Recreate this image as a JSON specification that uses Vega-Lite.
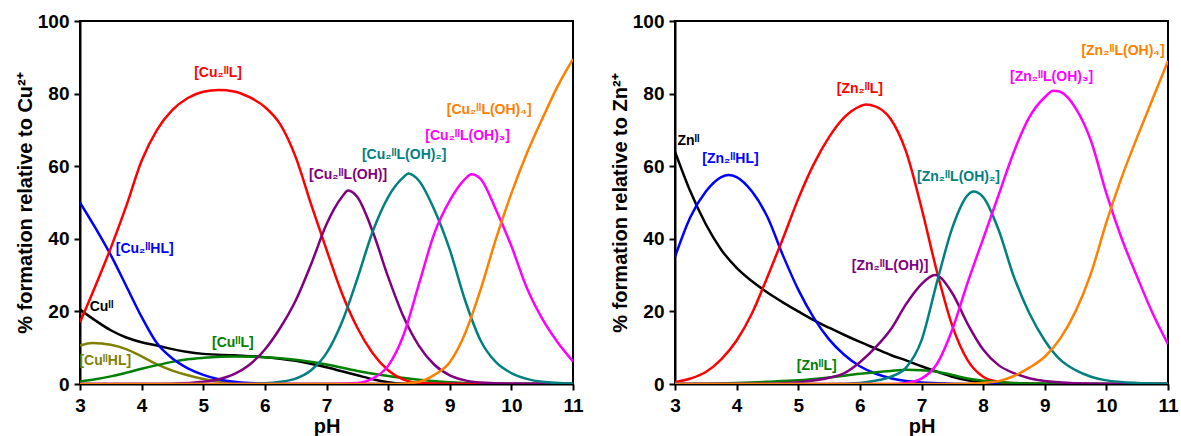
{
"$schema":"https://vega.github.io/schema/vega-lite/v6.json",
"padding":{"left":14,"top":11,"right":0,"bottom":0},
"spacing":102,
"bounds":"flush",
"config":{"font":"Liberation Sans","view":{"stroke":"black","strokeWidth":2},
"axis":{"domainColor":"black","domainWidth":2,"tickColor":"black","tickWidth":2,"tickSize":6,"labelFont":"Liberation Sans","labelFontSize":19,"labelFontWeight":"bold","labelColor":"black","titleFont":"Liberation Sans","titleFontSize":20,"titleFontWeight":"bold","titleColor":"black","grid":false,"labelOverlap":false,"labelFlush":false}},
"datasets":{
"cu":[
{"s":"M","x":3,"y":20.5},{"s":"M","x":3.25,"y":17.5},{"s":"M","x":3.5,"y":14.8},{"s":"M","x":3.75,"y":12.8},{"s":"M","x":4,"y":11.5},{"s":"M","x":4.25,"y":10.6},{"s":"M","x":4.5,"y":9.6},{"s":"M","x":4.75,"y":8.8},{"s":"M","x":5,"y":8.3},{"s":"M","x":5.5,"y":7.9},{"s":"M","x":6,"y":7.4},{"s":"M","x":6.5,"y":6.4},{"s":"M","x":7,"y":4.6},{"s":"M","x":7.25,"y":3.5},{"s":"M","x":7.5,"y":2.4},{"s":"M","x":7.75,"y":1.3},{"s":"M","x":8,"y":0.5},{"s":"M","x":8.25,"y":0.1},{"s":"M","x":8.5,"y":0},{"s":"M","x":11,"y":0},
{"s":"MHL","x":3,"y":10.6},{"s":"MHL","x":3.2,"y":11.3},{"s":"MHL","x":3.5,"y":10.8},{"s":"MHL","x":3.75,"y":9.6},{"s":"MHL","x":4,"y":7.6},{"s":"MHL","x":4.25,"y":5.4},{"s":"MHL","x":4.5,"y":3.7},{"s":"MHL","x":4.75,"y":2.4},{"s":"MHL","x":5,"y":1.4},{"s":"MHL","x":5.25,"y":0.7},{"s":"MHL","x":5.5,"y":0.3},{"s":"MHL","x":6,"y":0.05},{"s":"MHL","x":6.5,"y":0},{"s":"MHL","x":11,"y":0},
{"s":"ML","x":3,"y":0.7},{"s":"ML","x":3.25,"y":1.3},{"s":"ML","x":3.5,"y":2.1},{"s":"ML","x":3.75,"y":3.1},{"s":"ML","x":4,"y":4.2},{"s":"ML","x":4.25,"y":5.2},{"s":"ML","x":4.5,"y":6.1},{"s":"ML","x":4.75,"y":6.8},{"s":"ML","x":5,"y":7.2},{"s":"ML","x":5.5,"y":7.6},{"s":"ML","x":6,"y":7.4},{"s":"ML","x":6.5,"y":6.7},{"s":"ML","x":7,"y":5.4},{"s":"ML","x":7.5,"y":3.6},{"s":"ML","x":8,"y":2.2},{"s":"ML","x":8.5,"y":1.2},{"s":"ML","x":9,"y":0.5},{"s":"ML","x":9.5,"y":0.15},{"s":"ML","x":10,"y":0},{"s":"ML","x":11,"y":0},
{"s":"HL","x":3,"y":50},{"s":"HL","x":3.25,"y":43},{"s":"HL","x":3.5,"y":35.5},{"s":"HL","x":3.75,"y":27},{"s":"HL","x":4,"y":18.5},{"s":"HL","x":4.25,"y":11.2},{"s":"HL","x":4.5,"y":7},{"s":"HL","x":4.75,"y":4.3},{"s":"HL","x":5,"y":2.5},{"s":"HL","x":5.25,"y":1.3},{"s":"HL","x":5.5,"y":0.6},{"s":"HL","x":6,"y":0.1},{"s":"HL","x":6.5,"y":0},{"s":"HL","x":11,"y":0},
{"s":"L","x":3,"y":17},{"s":"L","x":3.25,"y":27},{"s":"L","x":3.5,"y":37.5},{"s":"L","x":3.75,"y":49},{"s":"L","x":4,"y":61.5},{"s":"L","x":4.25,"y":70},{"s":"L","x":4.5,"y":75.5},{"s":"L","x":4.75,"y":78.8},{"s":"L","x":5,"y":80.5},{"s":"L","x":5.25,"y":81},{"s":"L","x":5.5,"y":80.6},{"s":"L","x":5.75,"y":79},{"s":"L","x":6,"y":76.3},{"s":"L","x":6.25,"y":71.5},{"s":"L","x":6.5,"y":62.5},{"s":"L","x":6.75,"y":49.5},{"s":"L","x":7,"y":37},{"s":"L","x":7.25,"y":25},{"s":"L","x":7.5,"y":15.5},{"s":"L","x":7.75,"y":8.5},{"s":"L","x":8,"y":3.8},{"s":"L","x":8.25,"y":1.2},{"s":"L","x":8.5,"y":0.3},{"s":"L","x":9,"y":0.05},{"s":"L","x":9.5,"y":0},{"s":"L","x":11,"y":0},
{"s":"OH1","x":3,"y":0},{"s":"OH1","x":4,"y":0},{"s":"OH1","x":4.5,"y":0.1},{"s":"OH1","x":5,"y":0.6},{"s":"OH1","x":5.25,"y":1.3},{"s":"OH1","x":5.5,"y":2.7},{"s":"OH1","x":5.75,"y":5.3},{"s":"OH1","x":6,"y":9.5},{"s":"OH1","x":6.25,"y":15.5},{"s":"OH1","x":6.5,"y":23},{"s":"OH1","x":6.75,"y":33},{"s":"OH1","x":7,"y":44},{"s":"OH1","x":7.25,"y":51.5},{"s":"OH1","x":7.35,"y":53.3},{"s":"OH1","x":7.5,"y":51.5},{"s":"OH1","x":7.75,"y":42},{"s":"OH1","x":8,"y":29.5},{"s":"OH1","x":8.25,"y":18.5},{"s":"OH1","x":8.5,"y":10.5},{"s":"OH1","x":8.75,"y":5.3},{"s":"OH1","x":9,"y":2.4},{"s":"OH1","x":9.25,"y":1},{"s":"OH1","x":9.5,"y":0.4},{"s":"OH1","x":10,"y":0.05},{"s":"OH1","x":11,"y":0},
{"s":"OH2","x":3,"y":0},{"s":"OH2","x":5.5,"y":0},{"s":"OH2","x":6,"y":0.2},{"s":"OH2","x":6.25,"y":0.6},{"s":"OH2","x":6.5,"y":1.5},{"s":"OH2","x":6.75,"y":3.8},{"s":"OH2","x":7,"y":8.5},{"s":"OH2","x":7.25,"y":17},{"s":"OH2","x":7.5,"y":29},{"s":"OH2","x":7.75,"y":42},{"s":"OH2","x":8,"y":51.5},{"s":"OH2","x":8.25,"y":57},{"s":"OH2","x":8.33,"y":58},{"s":"OH2","x":8.5,"y":56},{"s":"OH2","x":8.75,"y":48},{"s":"OH2","x":9,"y":37},{"s":"OH2","x":9.25,"y":23},{"s":"OH2","x":9.5,"y":12},{"s":"OH2","x":9.75,"y":6},{"s":"OH2","x":10,"y":3},{"s":"OH2","x":10.25,"y":1.4},{"s":"OH2","x":10.5,"y":0.6},{"s":"OH2","x":11,"y":0.1},
{"s":"OH3","x":3,"y":0},{"s":"OH3","x":7,"y":0},{"s":"OH3","x":7.5,"y":0.3},{"s":"OH3","x":7.75,"y":1.5},{"s":"OH3","x":8,"y":5},{"s":"OH3","x":8.25,"y":13.5},{"s":"OH3","x":8.5,"y":27.5},{"s":"OH3","x":8.75,"y":41.5},{"s":"OH3","x":9,"y":50.5},{"s":"OH3","x":9.25,"y":56.5},{"s":"OH3","x":9.35,"y":57.8},{"s":"OH3","x":9.5,"y":56.5},{"s":"OH3","x":9.75,"y":48},{"s":"OH3","x":10,"y":38},{"s":"OH3","x":10.25,"y":26.5},{"s":"OH3","x":10.5,"y":18},{"s":"OH3","x":10.75,"y":11.5},{"s":"OH3","x":11,"y":6.2},
{"s":"OH4","x":3,"y":0},{"s":"OH4","x":8,"y":0},{"s":"OH4","x":8.25,"y":0.1},{"s":"OH4","x":8.5,"y":0.6},{"s":"OH4","x":8.75,"y":2.5},{"s":"OH4","x":9,"y":6},{"s":"OH4","x":9.25,"y":14},{"s":"OH4","x":9.5,"y":26},{"s":"OH4","x":9.75,"y":40},{"s":"OH4","x":10,"y":52.5},{"s":"OH4","x":10.25,"y":63.5},{"s":"OH4","x":10.5,"y":73},{"s":"OH4","x":10.75,"y":82},{"s":"OH4","x":11,"y":89.5}
],
"zn":[
{"s":"M","x":3,"y":64},{"s":"M","x":3.25,"y":53},{"s":"M","x":3.5,"y":44},{"s":"M","x":3.75,"y":37},{"s":"M","x":4,"y":32},{"s":"M","x":4.25,"y":28.3},{"s":"M","x":4.5,"y":25.2},{"s":"M","x":4.75,"y":22.5},{"s":"M","x":5,"y":20},{"s":"M","x":5.25,"y":17.6},{"s":"M","x":5.5,"y":15.5},{"s":"M","x":5.75,"y":13.5},{"s":"M","x":6,"y":11.6},{"s":"M","x":6.25,"y":9.8},{"s":"M","x":6.5,"y":8},{"s":"M","x":6.75,"y":6.5},{"s":"M","x":7,"y":4.9},{"s":"M","x":7.25,"y":3.4},{"s":"M","x":7.5,"y":2},{"s":"M","x":7.75,"y":1},{"s":"M","x":8,"y":0.4},{"s":"M","x":8.25,"y":0.1},{"s":"M","x":8.5,"y":0},{"s":"M","x":11,"y":0},
{"s":"HL","x":3,"y":35},{"s":"HL","x":3.25,"y":46},{"s":"HL","x":3.5,"y":53},{"s":"HL","x":3.75,"y":57},{"s":"HL","x":3.87,"y":57.6},{"s":"HL","x":4,"y":57},{"s":"HL","x":4.25,"y":53},{"s":"HL","x":4.5,"y":46},{"s":"HL","x":4.75,"y":35.5},{"s":"HL","x":5,"y":26},{"s":"HL","x":5.25,"y":18.3},{"s":"HL","x":5.5,"y":12.3},{"s":"HL","x":5.75,"y":8},{"s":"HL","x":6,"y":4.9},{"s":"HL","x":6.25,"y":2.9},{"s":"HL","x":6.5,"y":1.6},{"s":"HL","x":6.75,"y":0.8},{"s":"HL","x":7,"y":0.4},{"s":"HL","x":7.5,"y":0.1},{"s":"HL","x":8,"y":0},{"s":"HL","x":11,"y":0},
{"s":"L","x":3,"y":0.5},{"s":"L","x":3.25,"y":1.5},{"s":"L","x":3.5,"y":3.3},{"s":"L","x":3.75,"y":6.8},{"s":"L","x":4,"y":12},{"s":"L","x":4.25,"y":19.5},{"s":"L","x":4.5,"y":29.5},{"s":"L","x":4.75,"y":40},{"s":"L","x":5,"y":51},{"s":"L","x":5.25,"y":60.5},{"s":"L","x":5.5,"y":68},{"s":"L","x":5.75,"y":73.5},{"s":"L","x":6,"y":76.5},{"s":"L","x":6.1,"y":77},{"s":"L","x":6.25,"y":76.5},{"s":"L","x":6.5,"y":73},{"s":"L","x":6.75,"y":64},{"s":"L","x":7,"y":48.5},{"s":"L","x":7.25,"y":31},{"s":"L","x":7.5,"y":16},{"s":"L","x":7.75,"y":6.5},{"s":"L","x":8,"y":2},{"s":"L","x":8.25,"y":0.6},{"s":"L","x":8.5,"y":0.2},{"s":"L","x":9,"y":0},{"s":"L","x":11,"y":0},
{"s":"ML","x":3,"y":0},{"s":"ML","x":3.5,"y":0.1},{"s":"ML","x":4,"y":0.3},{"s":"ML","x":4.5,"y":0.6},{"s":"ML","x":5,"y":1},{"s":"ML","x":5.5,"y":1.8},{"s":"ML","x":6,"y":2.8},{"s":"ML","x":6.5,"y":3.6},{"s":"ML","x":6.75,"y":3.9},{"s":"ML","x":7,"y":3.8},{"s":"ML","x":7.25,"y":3.4},{"s":"ML","x":7.5,"y":2.5},{"s":"ML","x":7.75,"y":1.5},{"s":"ML","x":8,"y":0.9},{"s":"ML","x":8.5,"y":0.3},{"s":"ML","x":9,"y":0.1},{"s":"ML","x":9.5,"y":0},{"s":"ML","x":11,"y":0},
{"s":"OH1","x":3,"y":0},{"s":"OH1","x":4,"y":0},{"s":"OH1","x":4.5,"y":0.1},{"s":"OH1","x":5,"y":0.5},{"s":"OH1","x":5.5,"y":1.7},{"s":"OH1","x":5.75,"y":3},{"s":"OH1","x":6,"y":6},{"s":"OH1","x":6.25,"y":10},{"s":"OH1","x":6.5,"y":15},{"s":"OH1","x":6.75,"y":22},{"s":"OH1","x":7,"y":27.5},{"s":"OH1","x":7.22,"y":30},{"s":"OH1","x":7.5,"y":25},{"s":"OH1","x":7.75,"y":16.5},{"s":"OH1","x":8,"y":9.5},{"s":"OH1","x":8.25,"y":5.2},{"s":"OH1","x":8.5,"y":3},{"s":"OH1","x":8.75,"y":1.6},{"s":"OH1","x":9,"y":0.8},{"s":"OH1","x":9.5,"y":0.2},{"s":"OH1","x":10,"y":0},{"s":"OH1","x":11,"y":0},
{"s":"OH2","x":3,"y":0},{"s":"OH2","x":5.5,"y":0},{"s":"OH2","x":6,"y":0.3},{"s":"OH2","x":6.25,"y":0.9},{"s":"OH2","x":6.5,"y":2},{"s":"OH2","x":6.75,"y":4.5},{"s":"OH2","x":7,"y":12},{"s":"OH2","x":7.25,"y":28},{"s":"OH2","x":7.5,"y":43},{"s":"OH2","x":7.75,"y":52},{"s":"OH2","x":7.84,"y":53},{"s":"OH2","x":8,"y":51.5},{"s":"OH2","x":8.25,"y":42.5},{"s":"OH2","x":8.5,"y":29.5},{"s":"OH2","x":8.75,"y":19.5},{"s":"OH2","x":9,"y":12},{"s":"OH2","x":9.25,"y":6.7},{"s":"OH2","x":9.5,"y":3.8},{"s":"OH2","x":9.75,"y":2},{"s":"OH2","x":10,"y":1},{"s":"OH2","x":10.5,"y":0.3},{"s":"OH2","x":11,"y":0.1},
{"s":"OH3","x":3,"y":0},{"s":"OH3","x":6.5,"y":0},{"s":"OH3","x":6.75,"y":0.3},{"s":"OH3","x":7,"y":1.5},{"s":"OH3","x":7.25,"y":5.5},{"s":"OH3","x":7.5,"y":15},{"s":"OH3","x":7.75,"y":28},{"s":"OH3","x":8,"y":40},{"s":"OH3","x":8.25,"y":52},{"s":"OH3","x":8.5,"y":64},{"s":"OH3","x":8.75,"y":73.5},{"s":"OH3","x":9,"y":79},{"s":"OH3","x":9.14,"y":80.8},{"s":"OH3","x":9.25,"y":80.5},{"s":"OH3","x":9.5,"y":76},{"s":"OH3","x":9.75,"y":67},{"s":"OH3","x":10,"y":52.5},{"s":"OH3","x":10.25,"y":40},{"s":"OH3","x":10.5,"y":29.5},{"s":"OH3","x":10.75,"y":19.5},{"s":"OH3","x":11,"y":11},
{"s":"OH4","x":3,"y":0},{"s":"OH4","x":7.5,"y":0},{"s":"OH4","x":8,"y":0.3},{"s":"OH4","x":8.25,"y":0.8},{"s":"OH4","x":8.5,"y":2.2},{"s":"OH4","x":8.75,"y":4.5},{"s":"OH4","x":9,"y":7.5},{"s":"OH4","x":9.25,"y":12.5},{"s":"OH4","x":9.5,"y":20},{"s":"OH4","x":9.75,"y":30.5},{"s":"OH4","x":10,"y":44.5},{"s":"OH4","x":10.25,"y":57},{"s":"OH4","x":10.5,"y":68},{"s":"OH4","x":10.75,"y":78.5},{"s":"OH4","x":11,"y":89}
],
"cuLab":[
{"x":5.24,"y":85.6,"t":"[Cu₂ᴵᴵL]","s":"L"},
{"x":9.64,"y":75.6,"t":"[Cu₂ᴵᴵL(OH)₄]","s":"OH4"},
{"x":9.29,"y":68.4,"t":"[Cu₂ᴵᴵL(OH)₃]","s":"OH3"},
{"x":8.26,"y":63,"t":"[Cu₂ᴵᴵL(OH)₂]","s":"OH2"},
{"x":7.35,"y":57.6,"t":"[Cu₂ᴵᴵL(OH)]","s":"OH1"},
{"x":4.05,"y":37.2,"t":"[Cu₂ᴵᴵHL]","s":"HL"},
{"x":3.35,"y":21.1,"t":"Cuᴵᴵ","s":"M"},
{"x":5.48,"y":11.2,"t":"[CuᴵᴵL]","s":"ML"},
{"x":3.41,"y":6.2,"t":"[CuᴵᴵHL]","s":"MHL"}
],
"znLab":[
{"x":3.22,"y":67,"t":"Znᴵᴵ","s":"M"},
{"x":3.9,"y":62,"t":"[Zn₂ᴵᴵHL]","s":"HL"},
{"x":6.0,"y":81.3,"t":"[Zn₂ᴵᴵL]","s":"L"},
{"x":7.6,"y":57,"t":"[Zn₂ᴵᴵL(OH)₂]","s":"OH2"},
{"x":9.11,"y":84.5,"t":"[Zn₂ᴵᴵL(OH)₃]","s":"OH3"},
{"x":10.27,"y":91.8,"t":"[Zn₂ᴵᴵL(OH)₄]","s":"OH4"},
{"x":6.49,"y":32.6,"t":"[Zn₂ᴵᴵL(OH)]","s":"OH1"},
{"x":5.3,"y":5,"t":"[ZnᴵᴵL]","s":"ML"}
]
},
"hconcat":[
{"width":493,"height":363,
"layer":[
{"data":{"name":"cu"},"mark":{"type":"line","strokeWidth":2.5,"interpolate":"monotone","clip":true},
"encoding":{
"x":{"field":"x","type":"quantitative","scale":{"domain":[3,11],"nice":false,"zero":false},"axis":{"title":"pH","values":[3,3.5,4,4.5,5,5.5,6,6.5,7,7.5,8,8.5,9,9.5,10,10.5,11],"labelExpr":"datum.value % 1 === 0 ? format(datum.value, 'd') : ''","labelPadding":6,"titlePadding":1}},
"y":{"field":"y","type":"quantitative","scale":{"domain":[0,100],"nice":false},"axis":{"title":"% formation relative to Cu²⁺","values":[0,10,20,30,40,50,60,70,80,90,100],"labelExpr":"datum.value % 20 === 0 ? format(datum.value, 'd') : ''","labelPadding":5,"titlePadding":2}},
"color":{"field":"s","type":"nominal","scale":{"domain":["M","MHL","HL","ML","L","OH1","OH2","OH3","OH4"],"range":["#000000","#808000","#0000FF","#008000","#FF0000","#800080","#008080","#FF00FF","#FF8000"]},"legend":null}}},
{"data":{"name":"cuLab"},"mark":{"type":"text","fontWeight":"bold","fontSize":14,"font":"Liberation Sans"},
"encoding":{"x":{"field":"x","type":"quantitative"},"y":{"field":"y","type":"quantitative"},"text":{"field":"t"},
"color":{"field":"s","type":"nominal","legend":null}}}
]},
{"width":493,"height":363,
"layer":[
{"data":{"name":"zn"},"mark":{"type":"line","strokeWidth":2.5,"interpolate":"monotone","clip":true},
"encoding":{
"x":{"field":"x","type":"quantitative","scale":{"domain":[3,11],"nice":false,"zero":false},"axis":{"title":"pH","values":[3,3.5,4,4.5,5,5.5,6,6.5,7,7.5,8,8.5,9,9.5,10,10.5,11],"labelExpr":"datum.value % 1 === 0 ? format(datum.value, 'd') : ''","labelPadding":6,"titlePadding":1}},
"y":{"field":"y","type":"quantitative","scale":{"domain":[0,100],"nice":false},"axis":{"title":"% formation relative to Zn²⁺","values":[0,10,20,30,40,50,60,70,80,90,100],"labelExpr":"datum.value % 20 === 0 ? format(datum.value, 'd') : ''","labelPadding":5,"titlePadding":2}},
"color":{"field":"s","type":"nominal","scale":{"domain":["M","MHL","HL","ML","L","OH1","OH2","OH3","OH4"],"range":["#000000","#808000","#0000FF","#008000","#FF0000","#800080","#008080","#FF00FF","#FF8000"]},"legend":null}}},
{"data":{"name":"znLab"},"mark":{"type":"text","fontWeight":"bold","fontSize":14,"font":"Liberation Sans"},
"encoding":{"x":{"field":"x","type":"quantitative"},"y":{"field":"y","type":"quantitative"},"text":{"field":"t"},
"color":{"field":"s","type":"nominal","legend":null}}}
]}
]
}
